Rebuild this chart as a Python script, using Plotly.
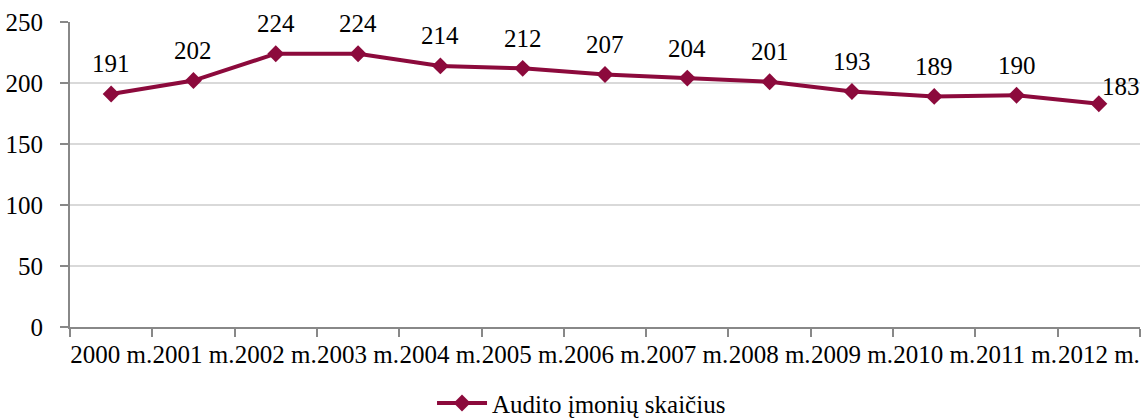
import plotly.graph_objects as go

years = ["2000 m.", "2001 m.", "2002 m.", "2003 m.", "2004 m.", "2005 m.", "2006 m.",
         "2007 m.", "2008 m.", "2009 m.", "2010 m.", "2011 m.", "2012 m."]
values = [191, 202, 224, 224, 214, 212, 207, 204, 201, 193, 189, 190, 183]
series_name = "Audito įmonių skaičius"
y_ticks = [0, 50, 100, 150, 200, 250]

color = "#8c0a3c"
font = "Liberation Serif, Times New Roman, serif"
fs = 25

fig = go.Figure()
fig.add_trace(go.Scatter(
    x=years, y=values, mode="lines+markers", name=series_name,
    line=dict(color=color, width=4),
    marker=dict(symbol="diamond", size=13, color=color),
))

for i, (x, v) in enumerate(zip(years, values)):
    last = i == len(values) - 1
    fig.add_annotation(
        x=x, y=v, text=str(v), showarrow=False,
        xshift=22 if last else 0, yshift=17 if last else 30,
        font=dict(family=font, size=fs, color="black"),
    )

fig.update_layout(
    width=1147, height=420,
    margin=dict(l=70, r=7, t=22, b=93, autoexpand=False),
    paper_bgcolor="white", plot_bgcolor="white",
    font=dict(family=font, size=fs, color="black"),
    showlegend=True,
    legend=dict(orientation="h", x=0.507, xanchor="center", xref="container",
                y=0.04, yanchor="middle", yref="container",
                font=dict(family=font, size=fs), itemwidth=50),
)
fig.update_xaxes(
    type="category", showgrid=False, showline=True, linecolor="#888888", linewidth=2,
    ticks="outside", tickson="boundaries", ticklen=8, tickcolor="#888888", tickwidth=2,
    tickfont=dict(family=font, size=fs), range=[-0.5, len(years) - 0.5],
    tickangle=0, automargin=False, ticklabelstandoff=4,
)
fig.update_yaxes(
    range=[0, 250], tickvals=y_ticks, showgrid=True, gridcolor="#d9d9d9", gridwidth=1.5,
    showline=True, linecolor="#888888", linewidth=2, ticks="outside", ticklen=8,
    tickcolor="#888888", tickwidth=2, zeroline=False,
    tickfont=dict(family=font, size=fs), automargin=False, ticklabelstandoff=12,
)

fig.write_html(
    "out.html",
    config={"displayModeBar": False},
    post_script="document.body.style.margin='0';document.body.style.overflow='hidden';",
)
